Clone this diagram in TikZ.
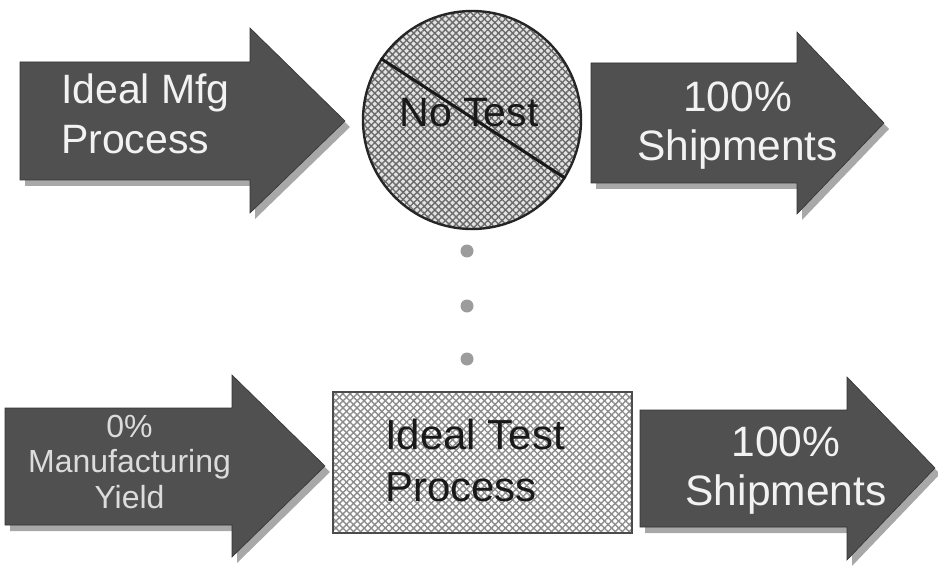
\documentclass[tikz,border=0pt]{standalone}
\usepackage{fontspec}
\setmainfont{Liberation Sans}
\usetikzlibrary{patterns.meta}

\definecolor{arrowbody}{HTML}{505050}
\definecolor{arrowshade}{HTML}{A8A8A8}
\definecolor{hatchdark}{HTML}{6A6A6A}
\definecolor{hatchlight}{HTML}{8C8C8C}
\definecolor{dotgray}{HTML}{9C9C9C}
\definecolor{lighttext}{HTML}{DCDCDC}

\tikzset{
  blockarrow/.style={fill=arrowbody, draw=black!80, line width=0.6pt},
  arrowshadow/.style={fill=arrowshade},
  arrowtext/.style={inner sep=0pt, text=white!95!black,
    font=\fontsize{41}{50}\selectfont},
  shiptext/.style={inner sep=0pt, text=white!95!black,
    font=\fontsize{42.5}{49}\selectfont, align=center},
  smalltext/.style={inner sep=0pt, text=lighttext,
    font=\fontsize{32}{35.5}\selectfont, align=center},
  darktext/.style={inner sep=0pt, text=black!90,
    font=\fontsize{41}{52}\selectfont},
  hatchA/.style={pattern={Lines[angle=45,distance=5pt,line width=1.4pt]}, pattern color=#1},
  hatchB/.style={pattern={Lines[angle=-45,distance=5pt,line width=1.4pt]}, pattern color=#1},
  ellipsisdot/.style={circle, fill=dotgray, minimum size=13pt, inner sep=0pt},
}

% block arrow: body from x0 to x1 between yt and yb, head from ht to hb, tip at (tx,ty)
\newcommand{\blockarrowpath}[9]{%
  (#1,#3) -- (#2,#3) -- (#2,#5) -- (#7,#8) -- (#2,#6) -- (#2,#4) -- (#1,#4) -- cycle}

\begin{document}
\begin{tikzpicture}[x=1pt, y=-1pt]
\useasboundingbox (0,0) rectangle (938,567);
\fill[white] (0,0) rectangle (938,567);

% ---- top row ----
\fill[arrowshadow, shift={(5,6)}] \blockarrowpath{20}{250}{62}{180}{28}{213}{345}{121}{};
\path[blockarrow] \blockarrowpath{20}{250}{62}{180}{28}{213}{345}{121}{};
\node[arrowtext, anchor=west, align=left] (mfg) at (61,114) {Ideal Mfg\\Process};

\node[circle, minimum size=218pt, inner sep=0pt,
      preaction={fill=gray!22},
      preaction={hatchA=hatchdark},
      hatchB=hatchdark, draw=black!85, line width=2.4pt] (notest) at (472,120) {};
\draw[line width=3pt, black!90] (notest.146) -- (notest.-32);
\node[darktext] (notestlabel) at (469,113) {No Test};

\fill[arrowshadow, shift={(5,6)}] \blockarrowpath{591}{797}{63}{183}{32}{214}{884}{123}{};
\path[blockarrow] \blockarrowpath{591}{797}{63}{183}{32}{214}{884}{123}{};
\node[shiptext] (shiptop) at (737.5,126) {100\%\\Shipments};

% ---- ellipsis ----
\node[ellipsisdot] (d1) at (467,251) {};
\node[ellipsisdot] (d2) at (467,306) {};
\node[ellipsisdot] (d3) at (467,359) {};

% ---- bottom row ----
\fill[arrowshadow, shift={(5,6)}] \blockarrowpath{5}{232}{408}{525}{375}{557}{325}{466}{};
\path[blockarrow] \blockarrowpath{5}{232}{408}{525}{375}{557}{325}{466}{};
\node[smalltext] (yield) at (129.5,461.5) {0\%\\Manufacturing\\Yield};

\node[rectangle, minimum width=299pt, minimum height=141pt, inner sep=0pt,
      preaction={fill=white},
      preaction={hatchA=hatchlight},
      hatchB=hatchlight, draw=black!70, line width=1.4pt] (idealtest) at (482.5,462.5) {};
\node[darktext, anchor=west, align=left, font=\fontsize{42}{52}\selectfont]
  (idealtestlabel) at (385,460) {Ideal Test\\Process};

\fill[arrowshadow, shift={(5,6)}] \blockarrowpath{640}{847}{410}{527}{377}{560}{935}{468}{};
\path[blockarrow] \blockarrowpath{640}{847}{410}{527}{377}{560}{935}{468}{};
\node[shiptext] (shipbottom) at (786,470.5) {100\%\\Shipments};
\end{tikzpicture}
\end{document}
